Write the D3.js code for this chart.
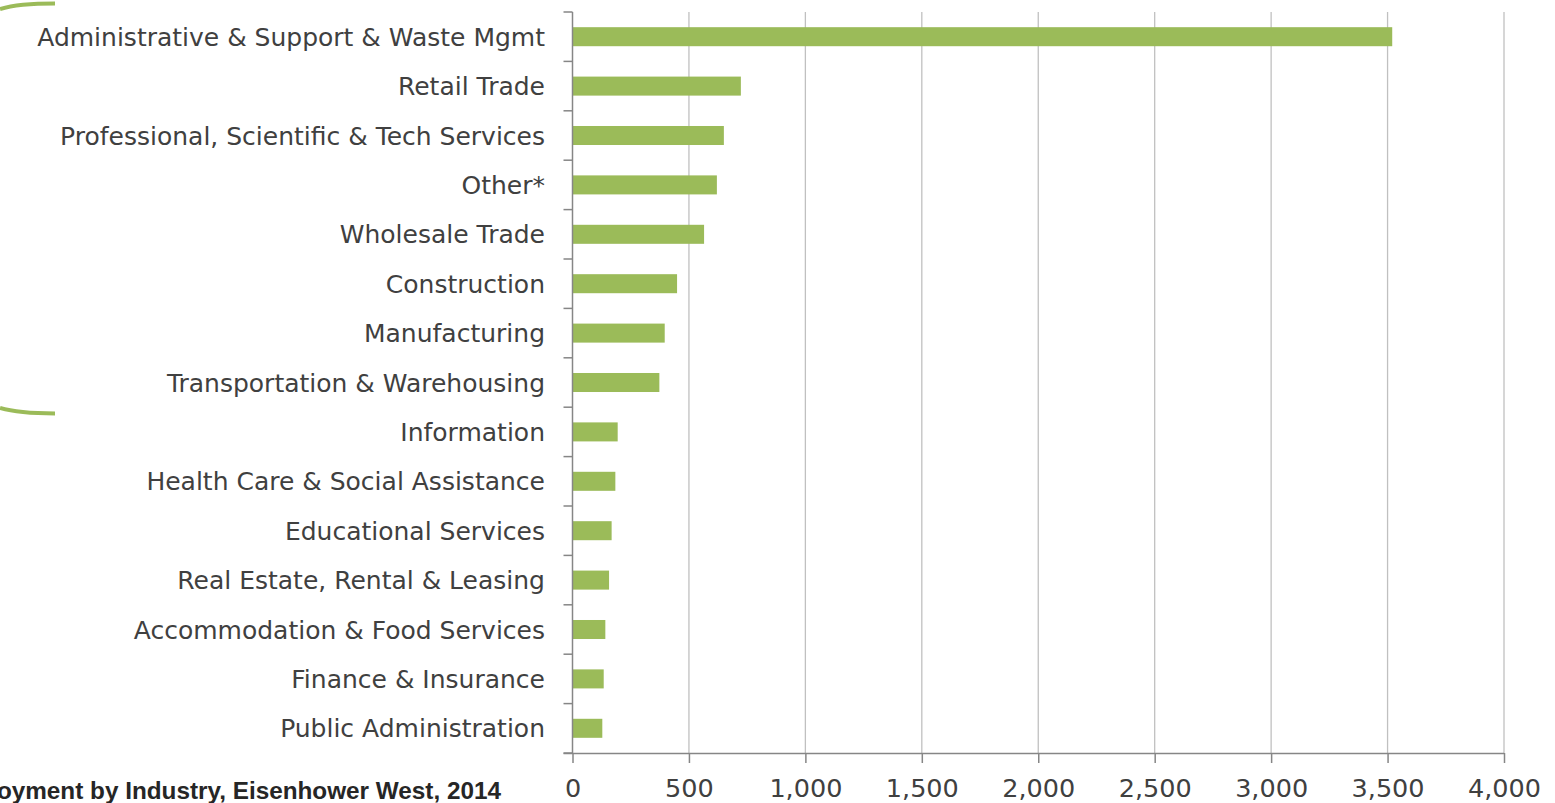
<!DOCTYPE html>
<html>
<head>
<meta charset="utf-8">
<script src="https://cdn.jsdelivr.net/npm/d3@7"></script>
<style>
  html, body { margin: 0; padding: 0; background: #ffffff; overflow: hidden; }
  svg { display: block; }
</style>
</head>
<body>
<svg id="chart" width="1555" height="803"></svg>
<script>
const categories = [
  "Administrative & Support & Waste Mgmt",
  "Retail Trade",
  "Professional, Scientific & Tech Services",
  "Other*",
  "Wholesale Trade",
  "Construction",
  "Manufacturing",
  "Transportation & Warehousing",
  "Information",
  "Health Care & Social Assistance",
  "Educational Services",
  "Real Estate, Rental & Leasing",
  "Accommodation & Food Services",
  "Finance & Insurance",
  "Public Administration"
];
const employment = [3520, 723, 650, 620, 565, 449, 396, 373, 194, 184, 168, 157, 141, 134, 128];
const tickValues = [0, 500, 1000, 1500, 2000, 2500, 3000, 3500, 4000];
const captionText = "Employment by Industry, Eisenhower West, 2014";

(function () {
const svg = d3.select("#chart");
const plotLeft = 572.5, plotRight = 1504, plotTop = 12, plotBottom = 753;

const x = d3.scaleLinear().domain([0, 4000]).range([plotLeft, plotRight]);
const y = d3.scaleBand().domain(categories).range([plotTop, plotBottom])
  .paddingInner(0.615).paddingOuter(0.3075);

// gridlines
svg.append("g").selectAll("line")
  .data(tickValues.filter(d => d > 0))
  .join("line")
  .attr("x1", d => x(d)).attr("x2", d => x(d))
  .attr("y1", plotTop).attr("y2", plotBottom)
  .attr("stroke", "#c0c0c0").attr("stroke-width", 1.3);

// bars
svg.append("g").selectAll("rect")
  .data(categories)
  .join("rect")
  .attr("x", x(0))
  .attr("y", d => y(d))
  .attr("width", (d, i) => x(employment[i]) - x(0))
  .attr("height", y.bandwidth())
  .attr("fill", "#9bbb59");

// y axis (category boundaries ticks)
const yAxis = svg.append("g").attr("stroke", "#868686").attr("stroke-width", 1.5);
yAxis.append("line").attr("x1", plotLeft).attr("x2", plotLeft).attr("y1", plotTop).attr("y2", plotBottom);
const boundaries = d3.range(categories.length + 1).map(i => plotTop + i * y.step());
yAxis.selectAll("line.tick").data(boundaries).join("line").attr("class", "tick")
  .attr("x1", plotLeft - 9).attr("x2", plotLeft).attr("y1", d => d).attr("y2", d => d);

// x axis
const xAxis = d3.axisBottom(x).tickValues(tickValues).tickSize(10).tickPadding(12)
  .tickFormat(d3.format(","));
const gx = svg.append("g").attr("transform", `translate(0,${plotBottom})`).call(xAxis);
gx.select(".domain").attr("stroke", "#868686").attr("stroke-width", 1.5)
  .attr("d", `M${plotLeft - 9},0.5H${plotRight}`);
gx.selectAll(".tick line").attr("stroke", "#868686").attr("stroke-width", 1.5);
gx.selectAll(".tick text")
  .attr("font-family", "DejaVu Sans").attr("font-size", "25.5px").attr("fill", "#404040")
  .attr("dy", "0.88em");

// category labels
svg.append("g").selectAll("text")
  .data(categories)
  .join("text")
  .attr("x", 545)
  .attr("y", d => y(d) + y.bandwidth() / 2)
  .attr("dy", "0.36em")
  .attr("text-anchor", "end")
  .attr("font-family", "DejaVu Sans")
  .attr("font-size", "25px")
  .attr("fill", "#404040")
  .text(d => d);

// decorative brackets
svg.append("path").attr("d", "M0,9 Q18,3.5 55,3.5").attr("fill", "none")
  .attr("stroke", "#9bbb59").attr("stroke-width", 4);
svg.append("path").attr("d", "M0,408 Q18,413.5 55,413.5").attr("fill", "none")
  .attr("stroke", "#9bbb59").attr("stroke-width", 4);

// caption (cut off at left edge, as in the reference)
svg.append("text")
  .attr("x", 501).attr("y", 799)
  .attr("text-anchor", "end")
  .attr("font-family", "Liberation Sans")
  .attr("font-weight", "bold")
  .attr("font-size", "24.3px")
  .attr("fill", "#262626")
  .text(captionText);
})();
</script>
</body>
</html>
